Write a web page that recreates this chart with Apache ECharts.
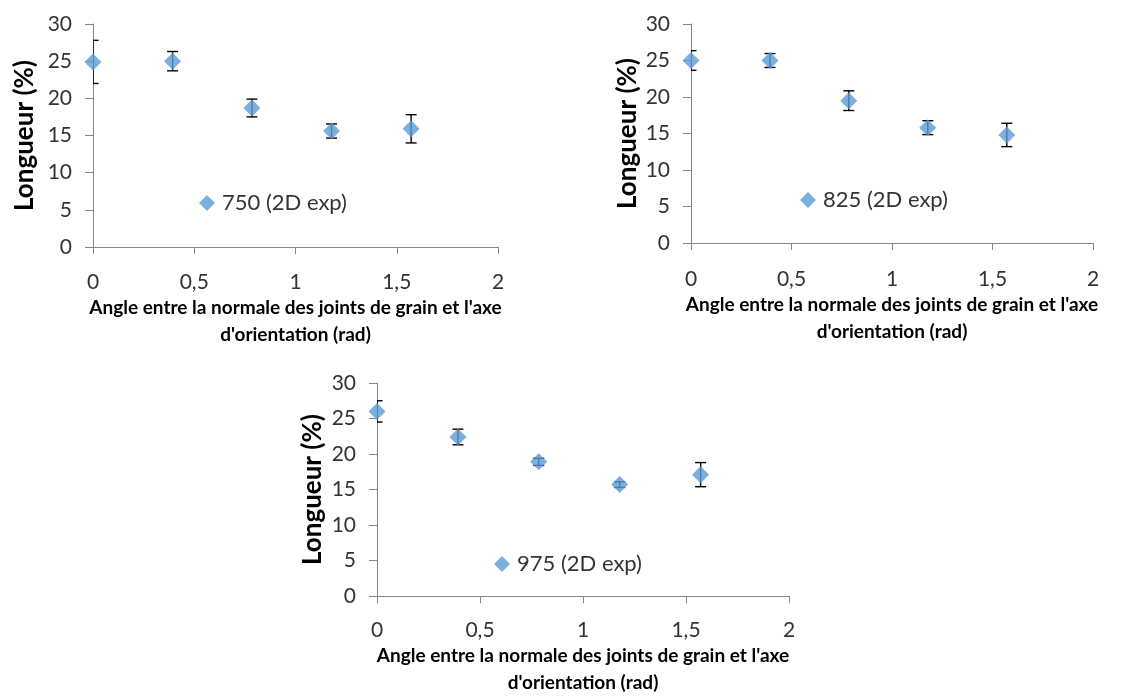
<!DOCTYPE html>
<html><head><meta charset="utf-8">
<script src="https://cdn.jsdelivr.net/npm/echarts@6/dist/echarts.min.js"></script>
<style>html,body{margin:0;padding:0;background:#fff}#c{width:1147px;height:697px}</style>
</head><body><div id="c"></div>
<script>
// Data
const angles = [0, 0.393, 0.785, 1.178, 1.571];
const names = ['750 (2D exp)', '825 (2D exp)', '975 (2D exp)'];
const len750 = [24.9, 25.0, 18.7, 15.6, 15.9];
const err750 = [2.9, 1.3, 1.2, 0.95, 1.9];
const len825 = [25.0, 25.0, 19.5, 15.8, 14.8];
const err825 = [1.35, 0.95, 1.35, 0.95, 1.6];
const len975 = [26.0, 22.4, 18.9, 15.7, 17.1];
const err975 = [1.5, 1.1, 0.5, 0.4, 1.7];
const xTicks = ['0', '0,5', '1', '1,5', '2'];
const xTitle = "Angle entre la normale des joints de grain et l'axe\nd'orientation (rad)";
const yTitle = 'Longueur (%)';

const FONT = 'Lato';
const blue = '#5B9BD5';
const axisCol = '#868686';

const grids = [
  {left: 93, top: 24, width: 405, height: 223},
  {left: 691, top: 24, width: 402, height: 219},
  {left: 377, top: 383, width: 412, height: 216}
];
const xLabelMargin = [25, 26, 24];
const xNameGap = [40, 42, 45];
const yNameGap = [55, 50, 51];
const legendPos = [{left: 199, top: 192}, {left: 800, top: 189}, {left: 494, top: 553}];
const sets = [[len750, err750], [len825, err825], [len975, err975]];

const xAxes = grids.map((g, i) => ({
  gridIndex: i, type: 'value', min: 0, max: 2, interval: 0.5,
  axisLine: {show: true, lineStyle: {color: axisCol, width: 1}},
  axisTick: {show: true, length: 7, lineStyle: {color: axisCol}},
  splitLine: {show: false},
  axisLabel: {margin: xLabelMargin[i], fontFamily: FONT, fontSize: 21, color: '#333',
    formatter: v => xTicks[Math.round(v / 0.5)]},
  name: xTitle, nameLocation: 'middle', nameGap: xNameGap[i],
  nameTextStyle: {fontFamily: FONT, fontWeight: 'bold', fontSize: 19, color: '#000', lineHeight: 27}
}));
const yAxes = grids.map((g, i) => ({
  gridIndex: i, type: 'value', min: 0, max: 30, interval: 5,
  axisLine: {show: true, lineStyle: {color: axisCol, width: 1}},
  axisTick: {show: true, length: 8, lineStyle: {color: axisCol}},
  splitLine: {show: false},
  axisLabel: {margin: 21, fontFamily: FONT, fontSize: 21, color: '#333'},
  name: yTitle, nameLocation: 'middle', nameGap: yNameGap[i], nameRotate: 90,
  nameTextStyle: {fontFamily: FONT, fontWeight: 'bold', fontSize: 26, color: '#000'}
}));

const series = [];
sets.forEach((s, i) => {
  const [vals, errs] = s;
  series.push({
    type: 'custom', xAxisIndex: i, yAxisIndex: i, clip: true, z: 1,
    silent: true,
    data: angles.map((x, k) => [x, vals[k] - errs[k], vals[k] + errs[k]]),
    renderItem: function(params, api){
      const lo = api.coord([api.value(0), api.value(1)]);
      const hi = api.coord([api.value(0), api.value(2)]);
      const hw = 5.5;
      const st = {stroke: '#000', lineWidth: 1.4};
      return {type: 'group', children: [
        {type: 'line', shape: {x1: lo[0], y1: lo[1], x2: hi[0], y2: hi[1]}, style: st},
        {type: 'line', shape: {x1: lo[0]-hw, y1: lo[1], x2: lo[0]+hw, y2: lo[1]}, style: st},
        {type: 'line', shape: {x1: hi[0]-hw, y1: hi[1], x2: hi[0]+hw, y2: hi[1]}, style: st}
      ]};
    }
  });
  series.push({
    type: 'scatter', name: names[i], xAxisIndex: i, yAxisIndex: i, z: 3,
    symbol: 'diamond', symbolSize: 17, clip: false,
    itemStyle: {color: blue},
    data: angles.map((x, k) => [x, vals[k]])
  });
});

const legends = names.map((n, i) => ({
  data: [n], left: legendPos[i].left, top: legendPos[i].top, orient: 'horizontal',
  padding: 0,
  icon: 'diamond', itemWidth: 16, itemHeight: 16, itemGap: 0,
  textStyle: {fontFamily: FONT, fontSize: 22, color: '#333', padding: [0, 0, 0, 2]},
  selectedMode: false
}));

const chart = echarts.init(document.getElementById('c'), null, {renderer: 'canvas'});
chart.setOption({
  animation: false,
  backgroundColor: '#fff',
  grid: grids,
  xAxis: xAxes,
  yAxis: yAxes,
  legend: legends,
  series: series
});
</script></body></html>
